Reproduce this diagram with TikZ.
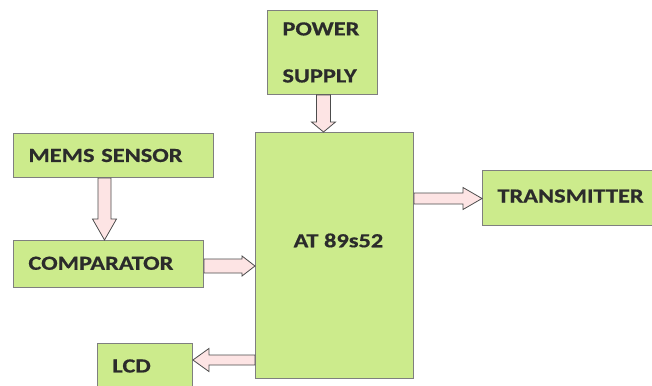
\documentclass[tikz,border=0pt]{standalone}
\usepackage{fontspec}
\newfontfamily\boxfont[FakeStretch=1.22,FakeBold=0.6]{Carlito}
\usetikzlibrary{calc}
\definecolor{boxgreen}{HTML}{CCEB8C}
\definecolor{boxline}{HTML}{7F7F7F}
\definecolor{arrowfill}{HTML}{FDE4E4}
\definecolor{txt}{HTML}{2B2B2B}
\tikzset{
  box/.style={draw=boxline, fill=boxgreen, line width=0.9pt, anchor=north west,
    inner xsep=15pt, inner ysep=0pt, align=left, text=txt,
    font=\boxfont\bfseries\fontsize{20}{24}\selectfont},
  arrowbody/.style={draw=black!70, fill=arrowfill, line width=0.8pt, line join=miter},
}
% #1 start, #2 end, #3 shaft half-width, #4 head half-width, #5 head length
\newcommand\fatarrow[5]{%
  \path coordinate (fah) at ($(#2)!#5!(#1)$);
  \draw[arrowbody] ($(#1)!#3!90:(#2)$) -- ($(fah)!#3!90:(#2)$) -- ($(fah)!#4!90:(#2)$)
    -- (#2) -- ($(fah)!#4!-90:(#2)$) -- ($(fah)!#3!-90:(#2)$) -- ($(#1)!#3!-90:(#2)$) -- cycle;
}
\begin{document}
\begin{tikzpicture}[x=1pt,y=-1pt]
\useasboundingbox (0,0) rectangle (652,385);
\clip (0,0) rectangle (652,385);
\fill[white] (0,0) rectangle (652,385);
% boxes
\node[box, minimum width=199pt, minimum height=44pt, text width=170pt] (mems) at (13,133) {MEMS SENSOR};
\node[box, minimum width=189pt, minimum height=47pt, text width=160pt] (comp) at (13,240) {\raisebox{1.5pt}{COMPARATOR}};
\node[box, minimum width=109pt, minimum height=84pt, text width=80pt] (power) at (267,10) {POWER\\[23pt]SUPPLY};
\node[box, minimum width=158pt, minimum height=246pt,
  label={[font=\boxfont\bfseries\fontsize{20}{24}\selectfont, text=txt, xshift=4pt, yshift=15pt]center:AT 89s52}] (at) at (255,132) {};
\node[box, minimum width=166pt, minimum height=55pt, text width=140pt] (trans) at (482,170) {\raisebox{4pt}{TRANSMITTER}};
\node[box, minimum width=92pt, minimum height=45pt, text width=65pt] (lcd) at (97,343) {LCD};
% connector end points
\coordinate (a1s) at (mems.south west -| 104.5,0);
\coordinate (a1e) at (comp.north west -| 104.5,0);
\coordinate (a2s) at (power.south west -| 323.5,0);
\coordinate (a2e) at (at.north west -| 323.5,0);
\coordinate (a3s) at (comp.north east |- 0,266);
\coordinate (a3e) at (at.north west |- 0,266);
\coordinate (a4s) at (at.north east |- 0,198.5);
\coordinate (a4e) at (trans.north west |- 0,198.5);
\coordinate (a5s) at (at.north west |- 0,360);
\coordinate (a5e) at (lcd.north east |- 0,360);
% arrows
\fatarrow{a1s}{a1e}{6.5pt}{12pt}{21pt}
\fatarrow{a2s}{a2e}{7pt}{12pt}{10pt}
\fatarrow{a3s}{a3e}{7pt}{10pt}{13pt}
\fatarrow{a4s}{a4e}{5.5pt}{11pt}{19pt}
\fatarrow{a5s}{a5e}{5pt}{11.5pt}{16pt}
\end{tikzpicture}
\end{document}
